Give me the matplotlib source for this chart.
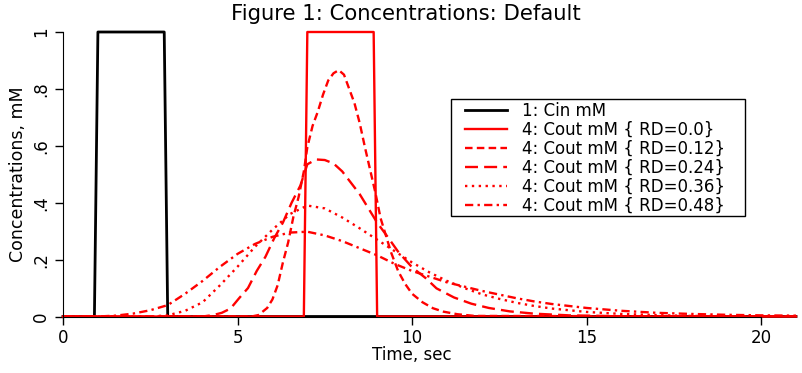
import matplotlib
matplotlib.use("Agg")
import matplotlib.pyplot as plt
from matplotlib.patches import Rectangle

# time grids (sec) and concentrations (mM)
t_cin = [0, 0.9, 1.0, 2.9, 3.0, 21]
c_cin = [0, 0, 1, 1, 0, 0]

t_rd00 = [0, 6.9, 7.0, 8.9, 9.0, 21]
c_rd00 = [0, 0, 1, 1, 0, 0]

t_rd12 = [0, 5.4, 5.6, 5.85, 6.0, 6.15, 6.3, 6.45, 6.6, 6.75, 6.9, 7.0, 7.15, 7.3,
          7.45, 7.6, 7.75, 7.9, 8.05, 8.2, 8.35, 8.5, 8.65, 8.8, 8.95, 9.1, 9.25,
          9.4, 9.6, 9.8, 10.0, 10.3, 10.6, 10.9, 11.3, 11.8, 21]
c_rd12 = [0, 0, 0.005, 0.03, 0.06, 0.11, 0.19, 0.26, 0.35, 0.42, 0.51, 0.595, 0.67,
          0.72, 0.78, 0.83, 0.855, 0.866, 0.85, 0.80, 0.75, 0.68, 0.595, 0.515, 0.435,
          0.345, 0.285, 0.225, 0.16, 0.115, 0.08, 0.05, 0.029, 0.017, 0.008, 0.002, 0]

t_rd24 = [0, 4.0, 4.3, 4.55, 4.8, 5.05, 5.3, 5.55, 5.8, 6.05, 6.3, 6.55, 6.8, 7.0,
          7.25, 7.5, 7.75, 8.0, 8.25, 8.5, 8.75, 9.0, 9.3, 9.6, 10.0, 10.4, 10.7,
          11.2, 11.7, 12.2, 12.8, 13.5, 14.5, 16, 21]
c_rd24 = [0, 0, 0.005, 0.013, 0.028, 0.065, 0.1, 0.16, 0.21, 0.275, 0.33, 0.40, 0.46,
          0.535, 0.552, 0.55, 0.538, 0.51, 0.47, 0.43, 0.38, 0.33, 0.28, 0.228, 0.173,
          0.134, 0.099, 0.067, 0.045, 0.03, 0.018, 0.01, 0.004, 0.001, 0]

t_rd36 = [0, 2.5, 3.0, 3.5, 4.0, 4.5, 5.0, 5.5, 6.0, 6.5, 7.0, 7.5, 8.0, 8.5, 9.0,
          9.5, 10.0, 10.5, 11.0, 11.5, 12.0, 12.5, 13.0, 13.5, 14.0, 15.0, 16.0,
          17.0, 18.0, 21]
c_rd36 = [0, 0, 0.004, 0.02, 0.05, 0.11, 0.175, 0.245, 0.305, 0.36, 0.39, 0.38, 0.348,
          0.31, 0.27, 0.23, 0.19, 0.155, 0.125, 0.1, 0.078, 0.062, 0.048, 0.037, 0.028,
          0.016, 0.009, 0.005, 0.002, 0]

t_rd48 = [0, 1.0, 1.5, 2.0, 2.5, 3.0, 3.5, 4.0, 4.5, 5.0, 5.5, 6.0, 6.5, 7.0, 7.5,
          8.0, 8.5, 9.0, 9.5, 10.0, 10.5, 11.0, 11.5, 12.0, 12.5, 13.0, 13.5, 14.0,
          15.0, 16.0, 17.0, 18.0, 19.0, 20.0, 21]
c_rd48 = [0, 0, 0.003, 0.01, 0.022, 0.04, 0.08, 0.125, 0.175, 0.22, 0.255, 0.28, 0.295,
          0.298, 0.285, 0.265, 0.24, 0.215, 0.185, 0.16, 0.14, 0.12, 0.105, 0.09, 0.077,
          0.064, 0.053, 0.044, 0.03, 0.02, 0.013, 0.009, 0.006, 0.004, 0.003]

labels = ["1: Cin mM", "4: Cout mM { RD=0.0}", "4: Cout mM { RD=0.12}",
          "4: Cout mM { RD=0.24}", "4: Cout mM { RD=0.36}", "4: Cout mM { RD=0.48}"]

W, H = 803, 373
fig = plt.figure(figsize=(W / 100, H / 100), dpi=100)
ax = fig.add_axes([63 / W, 1 - 316.5 / H, 733 / W, 284.5 / H])

lw = 1.7
ax.plot(t_cin, c_cin, color="black", lw=2.0, label=labels[0], clip_on=False)
ax.plot(t_rd00, c_rd00, color="red", lw=lw, label=labels[1], clip_on=False)
ax.plot(t_rd12, c_rd12, color="red", lw=lw, dashes=(3.2, 1.8), label=labels[2])
ax.plot(t_rd24, c_rd24, color="red", lw=lw, dashes=(5.5, 2.6), label=labels[3])
ax.plot(t_rd36, c_rd36, color="red", lw=lw, dashes=(1, 1.9), label=labels[4])
ax.plot(t_rd48, c_rd48, color="red", lw=lw, dashes=(3.5, 1.8, 1, 1.8), label=labels[5])

ax.set_xlim(0, 21)
ax.set_ylim(0, 1)
ax.spines["top"].set_visible(False)
ax.spines["right"].set_visible(False)
ax.spines["bottom"].set_bounds(0, 20)
ax.spines["left"].set_bounds(0, 1)

ax.set_xticks([0, 5, 10, 15, 20])
ax.set_yticks([0, 0.2, 0.4, 0.6, 0.8, 1])
ax.set_yticklabels(["0", ".2", ".4", ".6", ".8", "1"], rotation=90, va="center")
ax.tick_params(axis="both", length=5.8, width=1, labelsize=12, direction="out")

ax.set_xlabel("Time, sec", fontsize=12, labelpad=1)
ax.xaxis.set_label_coords(10 / 21, -0.105)
ax.set_ylabel("Concentrations, mM", fontsize=12.5, labelpad=4)
fig.suptitle("Figure 1: Concentrations: Default", fontsize=15.2,
             x=406 / W, y=1 - 3.5 / H, va="top")

# legend box drawn separately so its padding can match the original
leg = ax.legend(loc="upper left", bbox_to_anchor=(465 / W, 1 - 101.5 / H),
                bbox_transform=fig.transFigure, fontsize=12, frameon=False,
                handlelength=2.5, handletextpad=0.95, labelspacing=0.06,
                borderpad=0, borderaxespad=0)
fig.patches.append(Rectangle((451 / W, 1 - 216 / H), 294 / W, 117 / H,
                             transform=fig.transFigure, fill=False,
                             edgecolor="black", lw=1))

fig.savefig("out.png", dpi=100)
